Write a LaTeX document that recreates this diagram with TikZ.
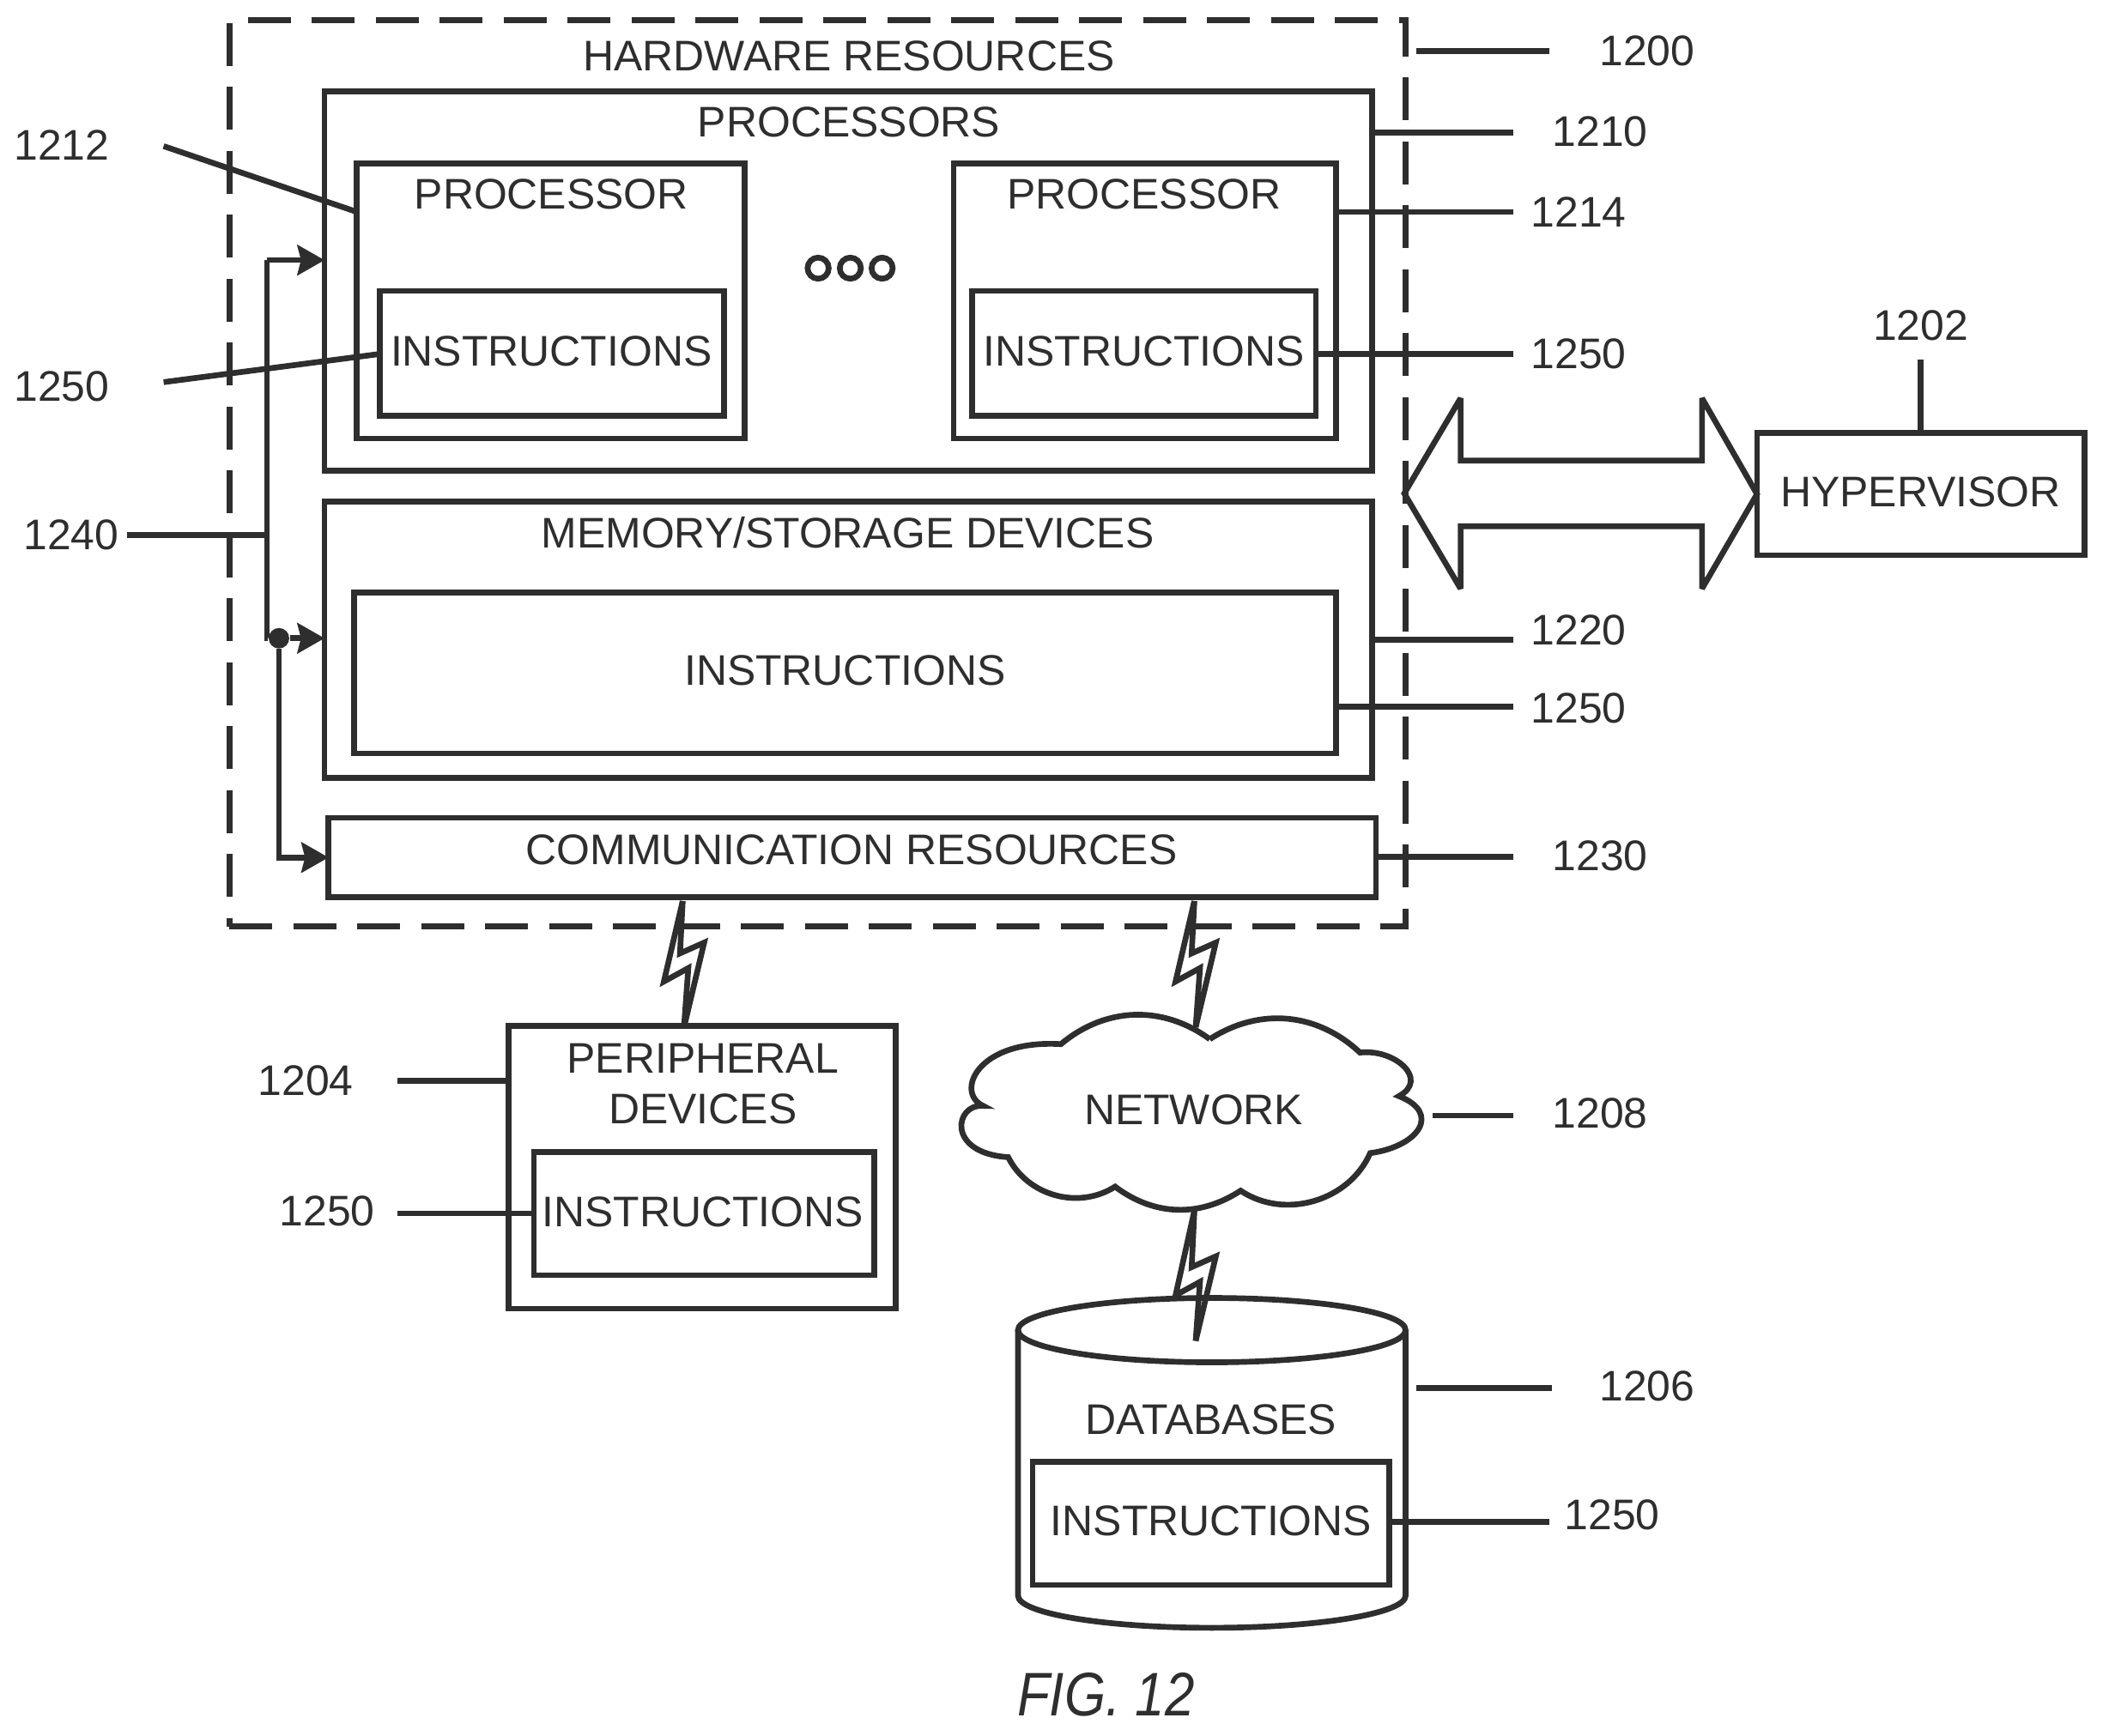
\documentclass[tikz,border=0pt]{standalone}
\usepackage{fontspec}
\setmainfont{Liberation Sans}
\usetikzlibrary{arrows.meta,fit,calc}
\definecolor{ink}{gray}{0.18}
\tikzset{
    lined/.style={draw=ink,line width=1.9pt},
    boxed/.style={lined,rectangle,inner sep=0pt,outer sep=0pt},
    txt/.style={inner sep=1pt,text=ink,font=\fontsize{14.2}{16}\selectfont},
    arrowed/.style={lined,-{Stealth[length=9pt,width=10pt,inset=1.2pt]}},
    pics/bolt/.style={code={
        \draw[lined,line join=miter] (0,0) -- (-14,#1) -- (4.2,#1-10) -- (1,#1+34);
        \draw[lined,line join=miter] (0,0) -- (-2,#1-21) -- (16,#1-29) -- (1,#1+34);
    }},
}
\begin{document}
\begin{tikzpicture}[x=0.015625cm,y=-0.015625cm]
    \useasboundingbox (0,0) rectangle (1568,1294.7);
    % hardware side
    \node[boxed,dashed,dash pattern=on 14.2pt off 7pt,fit={(171,15)(1048,691)}] (hw) {};
    \node[boxed,fit={(242,68)(1023,351)}] (procs) {};
    \node[boxed,fit={(266,122)(555,327)}] (proca) {};
    \node[boxed,fit={(283,217)(540,310)}] (insta) {};
    \node[boxed,fit={(711,122)(996,327)}] (procb) {};
    \node[boxed,fit={(725,217)(981,310)}] (instb) {};
    \node[boxed,fit={(242,374)(1023,580)}] (mem) {};
    \node[boxed,fit={(264,442)(996,562)}] (instm) {};
    \node[boxed,fit={(245,610)(1026,669)}] (comm) {};
    % outside boxes
    \node[boxed,fit={(1310,323)(1554,414)}] (hyper) {};
    \node[boxed,fit={(379,765)(668,976)}] (periph) {};
    \node[boxed,fit={(398,859)(652,951)}] (instp) {};
    % texts in the boxes
    \node[txt] (thw) at (633,42) {HARDWARE RESOURCES};
    \node[txt] (tprocs) at (633,91) {PROCESSORS};
    \node[txt] (tproca) at (411,145) {PROCESSOR};
    \node[txt] (tinsta) at (411,262) {INSTRUCTIONS};
    \node[txt] (tprocb) at (853,145) {PROCESSOR};
    \node[txt] (tinstb) at (853,262) {INSTRUCTIONS};
    \node[txt] (tmem) at (632,397) {MEMORY/STORAGE DEVICES};
    \node[txt] (tinstm) at (630,500) {INSTRUCTIONS};
    \node[txt] (tcomm) at (635,634) {COMMUNICATION RESOURCES};
    \node[txt] (thyper) at (1432,367) {HYPERVISOR};
    \node[txt] (tperia) at (524,789) {PERIPHERAL};
    \node[txt] (tperib) at (524,827) {DEVICES};
    \node[txt] (tinstp) at (524,904) {INSTRUCTIONS};
    \node[txt] (tnet) at (890,828) {NETWORK};
    \node[txt] (tdb) at (903,1059) {DATABASES};
    \node[txt] (tinstd) at (903,1134) {INSTRUCTIONS};
    \node[txt,font=\fontsize{17.6}{20}\selectfont\itshape] (tfig) at (824.5,1264) {\scalebox{1}[1.16]{FIG. 12}};
    % dots between the processors
    \foreach \px/\pname in {610/a,634/b,657.7/c}
        \node[lined,circle,inner sep=0pt,minimum size=7pt] (dot\pname) at (\px,200) {};
    % bus
    \coordinate (busa) at (199,194);
    \coordinate (busb) at (199,476);
    \node[circle,fill=ink,inner sep=0pt,minimum size=6.8pt] (busdot) at (208,476) {};
    \draw[lined] (busa) -- (busb) -- (busdot);
    \draw[arrowed] (busa) -- (busa -| procs.west);
    \draw[arrowed] (busdot) -- (busdot -| mem.west);
    \draw[arrowed] (busdot) |- (comm.west);
    % big arrow to the hypervisor
    \coordinate (biga) at (1047,368);
    \draw[lined,line join=miter,miter limit=3] (biga) -- (1089,297) -- (1089,343.5) -- (1269,343.5) -- (1269,297)
        -- (hyper.west) -- (1269,439) -- (1269,392.5) -- (1089,392.5) -- (1089,439) -- cycle;
    % cloud
    \coordinate (cla) at (902,775);
    \coordinate (clb) at (1014,785);
    \coordinate (clc) at (1043,817.5);
    \coordinate (cld) at (1021.6,860);
    \coordinate (cle) at (925,888);
    \coordinate (clf) at (831.4,885);
    \coordinate (clg) at (751.7,863);
    \coordinate (clh) at (733,824.7);
    \coordinate (cli) at (791,778.7);
    \draw[lined] (cla) to[bend left=38] (clb) .. controls (1040,782) and (1066,805) .. (clc)
        .. controls (1075,830) and (1058,855) .. (cld) to[bend left=50] (cle) to[bend left=35] (clf)
        to[bend left=48] (clg) .. controls (705,860) and (712,823) .. (clh)
        .. controls (712,815) and (728,775) .. (cli) to[bend left=38] (cla);
    % database
    \coordinate (dbl) at (759,992);
    \coordinate (dbr) at (1048,992);
    \coordinate (dbbl) at (759,1190);
    \coordinate (dbbr) at (1048,1190);
    \draw[lined] (903.5,992) ellipse [x radius=144.5,y radius=24];
    \draw[lined] (dbl) -- (dbbl) arc[start angle=180,end angle=0,x radius=144.5,y radius=24] -- (dbr);
    \node[boxed,fit={(770,1090)(1036,1182)}] (instd) {};
    % lightning
    \coordinate (bolta) at (509,672);
    \coordinate (boltb) at (890.5,672);
    \coordinate (boltc) at (890.5,903);
    \pic at (bolta) {bolt=60};
    \pic at (boltb) {bolt=60};
    \pic at (boltc) {bolt=63};
    % reference numbers
    \foreach \nname/\nx/\ny/\ntext in {
        a/1228/38/1200, b/1193/98/1210, c/46/108/1212, d/1177/158/1214,
        e/46/288/1250, f/1177/264/1250, g/1432/243/1202, h/53/399/1240,
        i/1177/470/1220, j/1177/528/1250, k/1193/638/1230, l/228/806/1204,
        m/244/903/1250, n/1193/830/1208, o/1228/1034/1206, p/1202/1130/1250}
        \node[txt] (num\nname) at (\nx,\ny) {\ntext};
    % leader lines
    \coordinate (enda) at (1056,38);
    \coordinate (endb) at (1155,38);
    \draw[lined] (enda) -- (endb);
    \coordinate (endc) at (1128,99);
    \draw[lined] (procs.east |- endc) -- (endc);
    \coordinate (endd) at (122,109);
    \draw[lined] (endd) -- (proca.west |- 0,158);
    \coordinate (ende) at (1128,158);
    \draw[lined] (procb.east |- ende) -- (ende);
    \coordinate (endf) at (122,285);
    \draw[lined] (endf) -- (insta.west |- 0,264);
    \coordinate (endg) at (1128,264);
    \draw[lined] (instb.east |- endg) -- (endg);
    \coordinate (endh) at (1432,268);
    \draw[lined] (endh) -- (hyper.north);
    \coordinate (endi) at (95,399);
    \draw[lined] (endi) -- (endi -| busa);
    \coordinate (endj) at (1128,477);
    \draw[lined] (mem.east |- endj) -- (endj);
    \coordinate (endk) at (1128,527);
    \draw[lined] (instm.east |- endk) -- (endk);
    \coordinate (endl) at (1128,639);
    \draw[lined] (comm.east |- endl) -- (endl);
    \coordinate (endm) at (296,806);
    \draw[lined] (endm) -- (endm -| periph.west);
    \coordinate (endn) at (296,905);
    \draw[lined] (endn) -- (endn -| instp.west);
    \coordinate (endo) at (1068,832);
    \coordinate (endp) at (1128,832);
    \draw[lined] (endo) -- (endp);
    \coordinate (endq) at (1056,1035);
    \coordinate (endr) at (1157,1035);
    \draw[lined] (endq) -- (endr);
    \coordinate (ends) at (1155,1135);
    \draw[lined] (instd.east |- ends) -- (ends);
\end{tikzpicture}
\end{document}
